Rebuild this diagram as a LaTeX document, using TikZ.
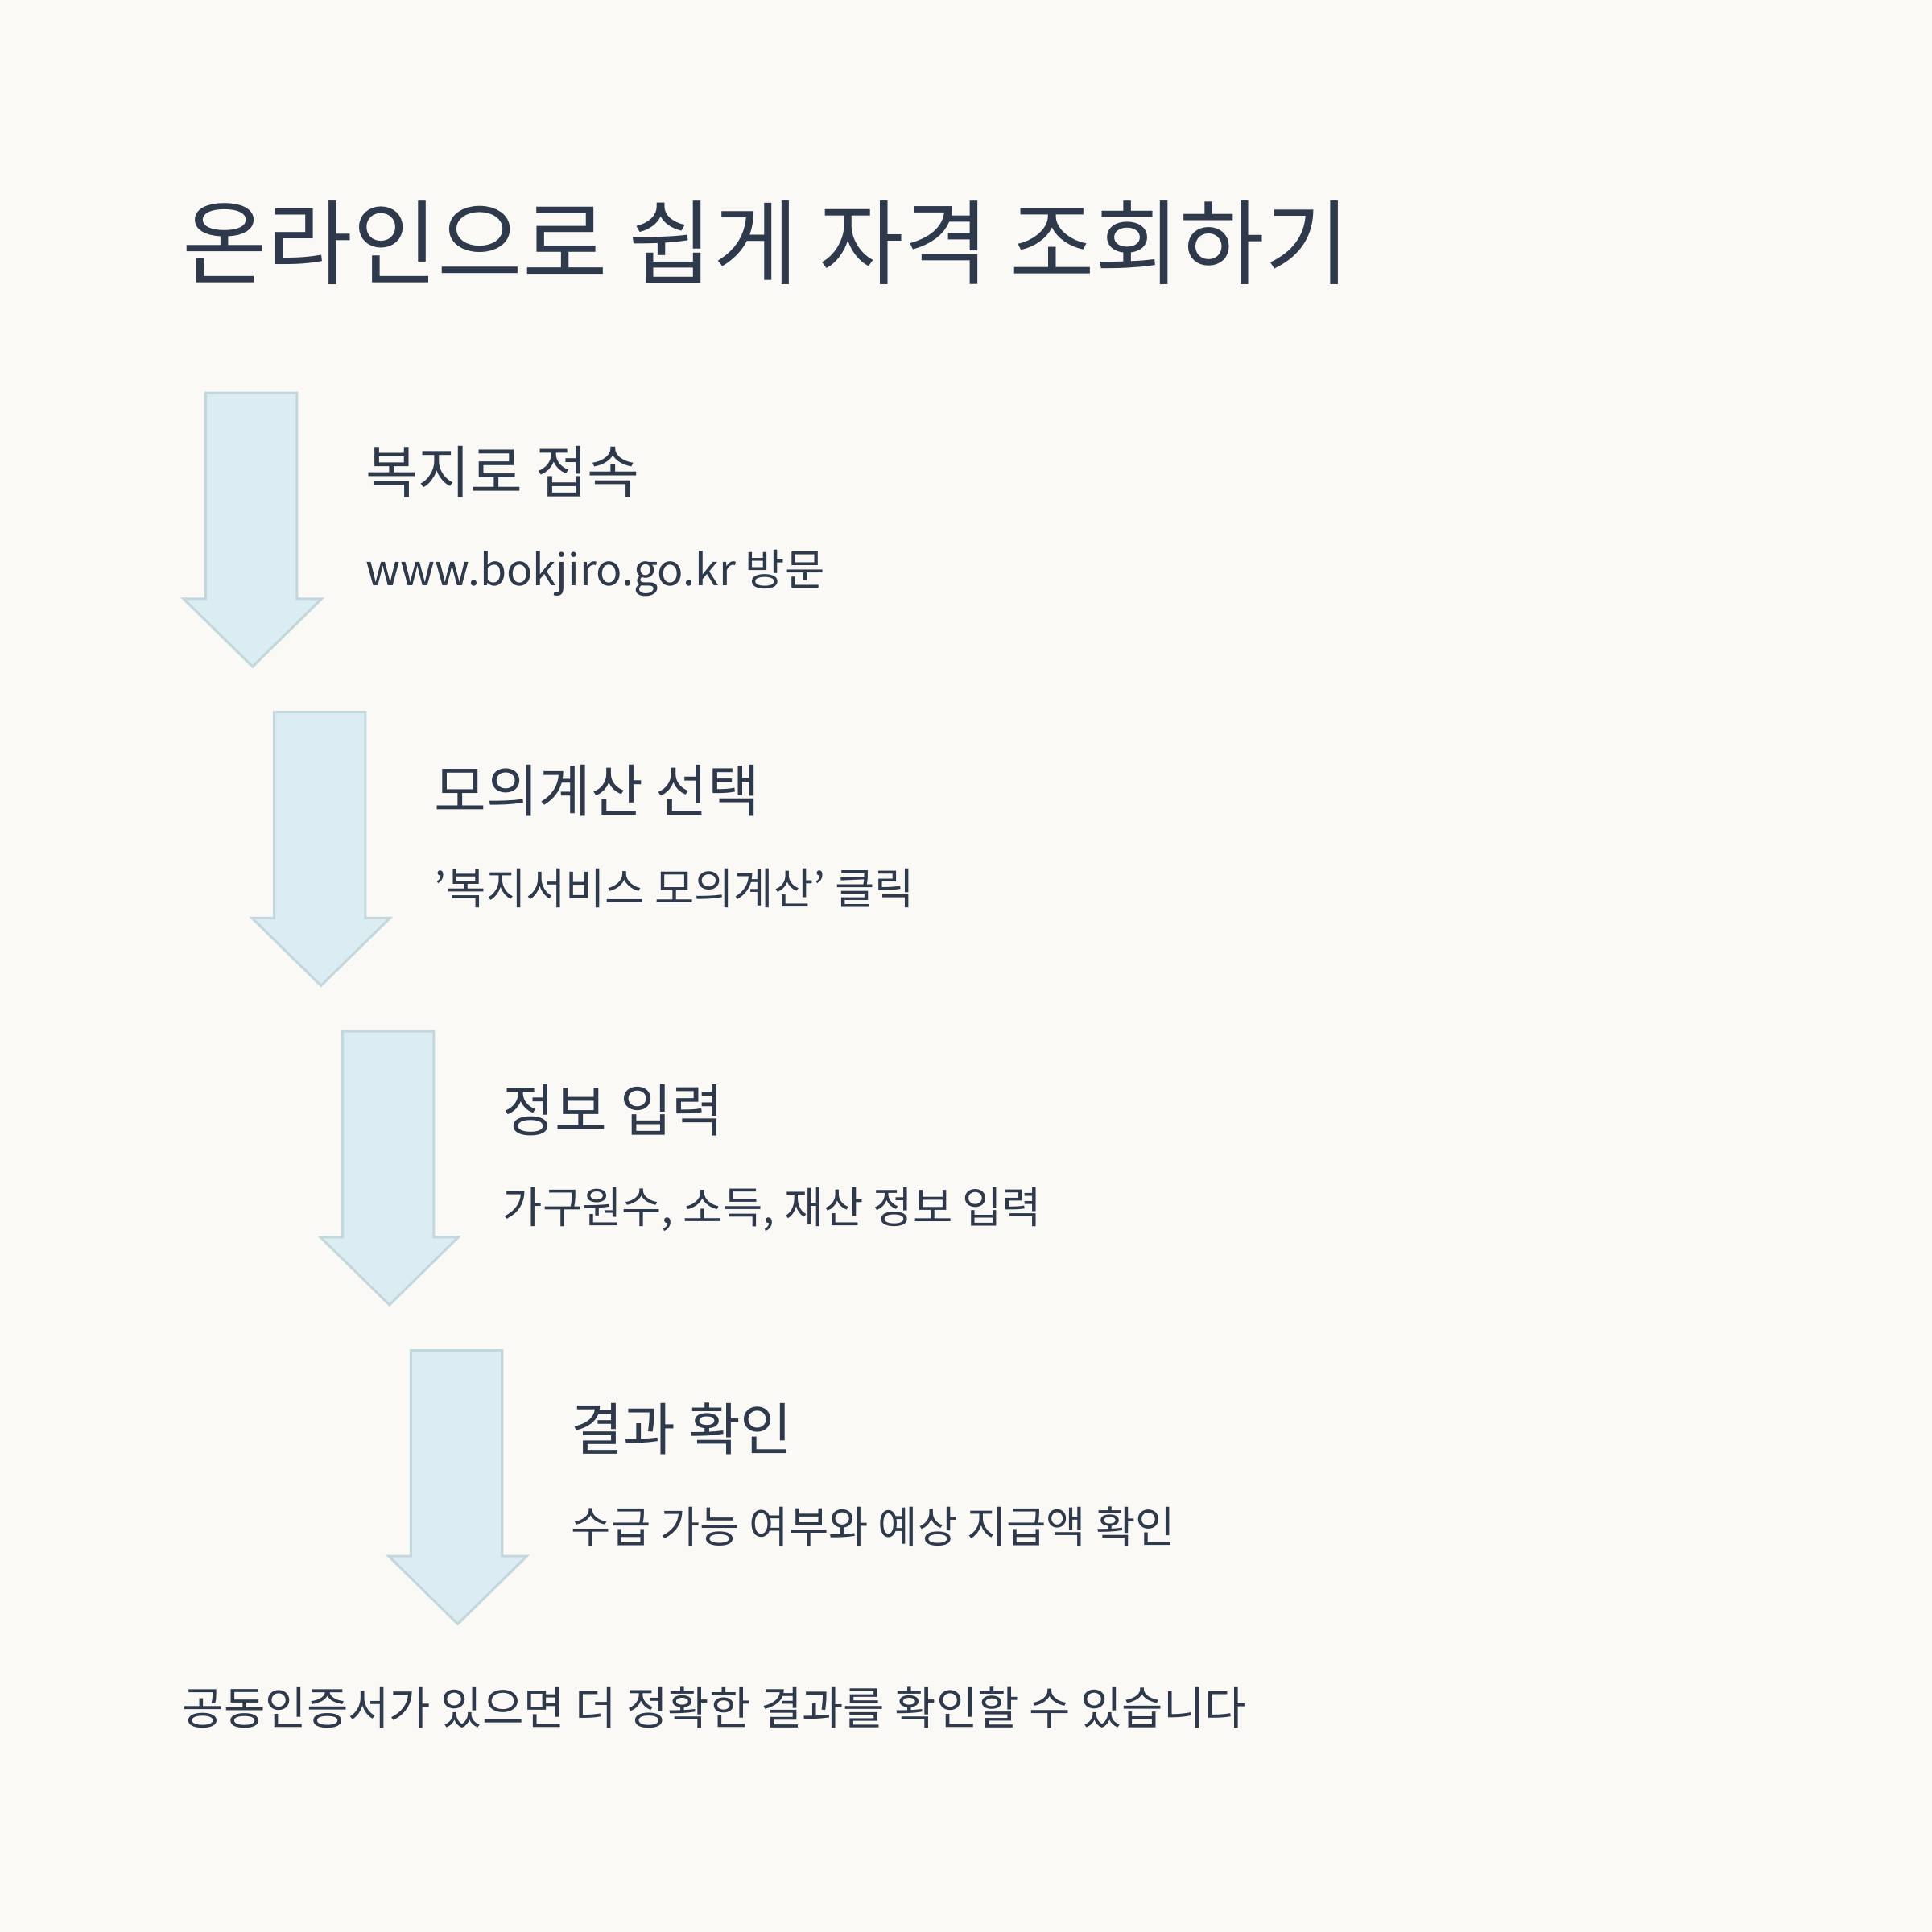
\documentclass[tikz,border=0pt]{standalone}
\usepackage{fontspec}
\setmainfont{Noto Sans CJK KR}[Ligatures=ResetAll]
\definecolor{bg}{HTML}{FAF9F6}
\definecolor{txt}{HTML}{2E3A4C}
\definecolor{af}{HTML}{DBECF3}
\definecolor{as}{HTML}{C3D8DD}
\begin{document}
\begin{tikzpicture}[x=1pt,y=-1pt,
  arr/.style={fill=af,draw=as,line width=2pt,line join=miter},
  ttl/.style={anchor=base west,text=txt,inner sep=0,font=\fontsize{75}{80}\selectfont},
  hd/.style={anchor=base west,text=txt,inner sep=0,font=\fontsize{46}{50}\selectfont},
  sb/.style={anchor=base west,text=txt,inner sep=0,font=\fontsize{35}{40}\selectfont},
  ft/.style={anchor=base west,text=txt,inner sep=0,font=\fontsize{36.5}{40}\selectfont}]
\fill[bg] (0,0) rectangle (1568,1568);
\useasboundingbox (0,0) rectangle (1568,1568);
\node[ttl] (t) at (148,225) {온라인으로 쉽게 자격 조회하기};
\foreach \i/\h/\s in {0/복지로 접속/www.bokjiro.go.kr 방문,1/모의계산 선택/'복지서비스 모의계산' 클릭,2/정보 입력/{가구원수, 소득, 재산 정보 입력},3/결과 확인/수급 가능 여부와 예상 지급액 확인}{
  \pgfmathsetmacro\dx{55.5*\i}
  \pgfmathsetmacro\dy{259*\i}
  \begin{scope}[shift={(\dx,\dy)}]
  \draw[arr] (167,319) -- (241,319) -- (241,486) -- (261,486) -- (205,541) -- (149,486) -- (167,486) -- cycle;
  \node[hd] (h\i) at (297,400) {\h};
  \node[sb] (s\i) at (297,475) {\s};
  \end{scope}
}
\node[ft] (f) at (148,1400) {공동인증서가 있으면 더 정확한 결과를 확인할 수 있습니다};
\end{tikzpicture}
\end{document}
